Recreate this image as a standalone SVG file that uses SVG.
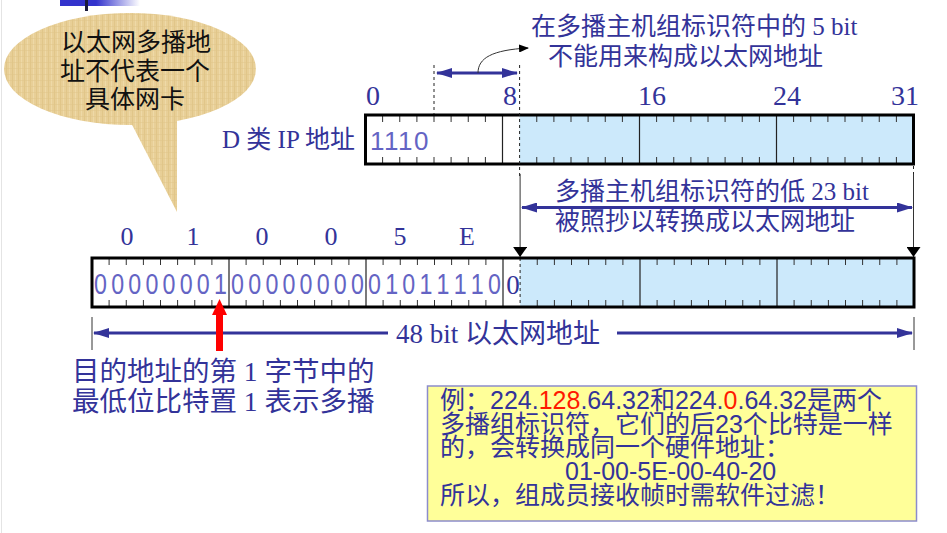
<svg xmlns="http://www.w3.org/2000/svg" width="947" height="533" viewBox="0 0 947 533">
<style>
.lbl{font-family:"Liberation Serif","Noto Sans CJK SC",serif;fill:#333399;font-size:25px}
.big{font-size:27.5px}
.mid{font-size:27px}
.num{font-family:"Liberation Serif",serif;fill:#333399;font-size:28px;text-anchor:middle}
.hex{font-family:"Liberation Serif",serif;fill:#333399;font-size:26px;text-anchor:middle}
.bits{font-family:"Liberation Sans",sans-serif;fill:#6464c4;font-size:29px;text-anchor:middle}
.bub{font-family:"Noto Sans CJK SC",sans-serif;fill:#111;font-size:25px;text-anchor:middle}
.ex{font-family:"Liberation Sans","Noto Sans CJK SC",sans-serif;fill:#333399;font-size:25px}
.red{fill:#ff1a00}
.frame{fill:none;stroke:#000;stroke-width:3}
.byte{stroke:#222;stroke-width:1.2}
.tick{stroke:#333;stroke-width:1;fill:none}
.dash{stroke:#222;stroke-width:1;stroke-dasharray:3 3}
.blue{stroke:#333399;stroke-width:3;fill:none}
.thin{stroke:#333;stroke-width:1;fill:none}
</style>
<defs>
<linearGradient id="barGrad" x1="0" y1="0" x2="1" y2="0">
<stop offset="0" stop-color="#3333cc"/>
<stop offset="0.45" stop-color="#3333cc"/>
<stop offset="1" stop-color="#ffffff"/>
</linearGradient>
<pattern id="parch" width="6" height="6" patternUnits="userSpaceOnUse">
<rect width="6" height="6" fill="#e8cf97"/>
<rect x="0" width="1" height="6" fill="#dfc283" opacity="0.7"/>
<rect x="3" width="1" height="6" fill="#f0dcab" opacity="0.8"/>
<rect y="2" width="6" height="1" fill="#e0c689" opacity="0.5"/>
</pattern>
<marker id="bArrow" viewBox="0 0 16 10" refX="15" refY="5" markerWidth="16" markerHeight="10" markerUnits="userSpaceOnUse" orient="auto-start-reverse">
<path d="M0,0 L16,5 L0,10 z" fill="#333399"/>
</marker>
<marker id="kArrow" viewBox="0 0 10 14" refX="10" refY="7" markerWidth="10" markerHeight="14" markerUnits="userSpaceOnUse" orient="auto">
<path d="M0,0 L10,7 L0,14 z" fill="#000"/>
</marker>
<marker id="kSmall" viewBox="0 0 10 8" refX="9" refY="4" markerWidth="10" markerHeight="8" markerUnits="userSpaceOnUse" orient="auto">
<path d="M0,0 L10,4 L0,8 z" fill="#000"/>
</marker>
</defs>

<rect width="947" height="533" fill="#ffffff"/>
<line x1="1.5" y1="0" x2="1.5" y2="533" stroke="#e4e4e4" stroke-width="1"/>
<rect x="60" y="0" width="80" height="6" fill="url(#barGrad)"/>
<rect x="85" y="0" width="3" height="11" fill="#1a1a3a"/>

<g id="bubble">
<path d="M127,115 L177,212 L177,118 Z" fill="url(#parch)"/>
<ellipse cx="130" cy="69" rx="126" ry="56" fill="url(#parch)"/>
<text class="bub" x="136" y="51">以太网多播地</text>
<text class="bub" x="135" y="80">址不代表一个</text>
<text class="bub" x="135" y="108">具体网卡</text>
</g>

<g id="ip-address">
<text class="lbl" x="222" y="148">D 类 IP 地址</text>
<text class="num" x="373" y="105">0</text>
<text class="num" x="510" y="105">8</text>
<text class="num" x="652" y="105">16</text>
<text class="num" x="787" y="105">24</text>
<text class="num" x="905" y="105">31</text>
<rect x="519.6" y="115" width="394" height="49" fill="#cce9fb"/>
<path class="tick" d="M382.6 116v6m0 35v6M399.75 116v6m0 35v6M416.9 116v6m0 35v6M434 116v6m0 35v6M451.1 116v6m0 35v6M468.25 116v6m0 35v6M485.4 116v6m0 35v6M536.75 116v6m0 35v6M553.9 116v6m0 35v6M571 116v6m0 35v6M588.1 116v6m0 35v6M605.25 116v6m0 35v6M622.4 116v6m0 35v6M656.6 116v6m0 35v6M673.75 116v6m0 35v6M690.9 116v6m0 35v6M708 116v6m0 35v6M725.1 116v6m0 35v6M742.25 116v6m0 35v6M759.4 116v6m0 35v6M793.6 116v6m0 35v6M810.75 116v6m0 35v6M827.9 116v6m0 35v6M845 116v6m0 35v6M862.1 116v6m0 35v6M879.25 116v6m0 35v6M896.4 116v6m0 35v6"/>
<path class="byte" d="M502.5 115V164M639.5 115V164M776.5 115V164"/>
<rect class="frame" x="365.5" y="115" width="548" height="49"/>
<text x="370" y="150" font-family="Liberation Sans, sans-serif" font-size="26" fill="#6464c4" letter-spacing="1.5">1110</text>
</g>

<g id="mac-address">
<text class="hex" x="127" y="245">0</text>
<text class="hex" x="193" y="245">1</text>
<text class="hex" x="262" y="245">0</text>
<text class="hex" x="331" y="245">0</text>
<text class="hex" x="400" y="245">5</text>
<text class="hex" x="467" y="245">E</text>
<rect x="520.1" y="258" width="393.9" height="49" fill="#cce9fb"/>
<path class="tick" d="M109.1 259v6m0 35v6M126.25 259v6m0 35v6M143.4 259v6m0 35v6M160.5 259v6m0 35v6M177.6 259v6m0 35v6M194.75 259v6m0 35v6M211.9 259v6m0 35v6M246.1 259v6m0 35v6M263.25 259v6m0 35v6M280.4 259v6m0 35v6M297.5 259v6m0 35v6M314.6 259v6m0 35v6M331.75 259v6m0 35v6M348.9 259v6m0 35v6M383.1 259v6m0 35v6M400.25 259v6m0 35v6M417.4 259v6m0 35v6M434.5 259v6m0 35v6M451.6 259v6m0 35v6M468.75 259v6m0 35v6M485.9 259v6m0 35v6M537.25 259v6m0 35v6M554.4 259v6m0 35v6M571.5 259v6m0 35v6M588.6 259v6m0 35v6M605.75 259v6m0 35v6M622.9 259v6m0 35v6M657.1 259v6m0 35v6M674.25 259v6m0 35v6M691.4 259v6m0 35v6M708.5 259v6m0 35v6M725.6 259v6m0 35v6M742.75 259v6m0 35v6M759.9 259v6m0 35v6M794.1 259v6m0 35v6M811.25 259v6m0 35v6M828.4 259v6m0 35v6M845.5 259v6m0 35v6M862.6 259v6m0 35v6M879.75 259v6m0 35v6M896.9 259v6m0 35v6"/>
<path class="byte" d="M229 258V307M366 258V307M503 258V307M640 258V307M777 258V307"/>
<line class="dash" x1="520.1" y1="258" x2="520.1" y2="307"/>
<rect class="frame" x="92" y="258" width="822" height="49"/>
<text class="bits" transform="scale(0.8 1)" y="294" x="125.7 147.1 168.5 189.9 211.3 232.7 254.1 275.5 296.9 318.4 339.8 361.2 382.6 404.0 425.4 446.8 468.2 489.6 511.0 532.4 553.8 575.2 596.6 618.0">000000010000000001011110</text>
<text x="513" y="294" font-family="Liberation Serif, serif" font-size="27" fill="#333399" text-anchor="middle">0</text>
</g>

<g id="note-5bit">
<text class="lbl" x="531" y="35">在多播主机组标识符中的 5 bit</text>
<text class="lbl" x="548" y="65">不能用来构成以太网地址</text>
</g>

<g id="note-23bit">
<text class="lbl" x="555" y="200">多播主机组标识符的低 23 bit</text>
<text class="lbl" x="555" y="230">被照抄以转换成以太网地址</text>
</g>

<g id="note-48bit">
<text class="lbl mid" x="396" y="343">48 bit 以太网地址</text>
</g>

<g id="note-multicast-bit">
<text class="lbl big" x="72" y="381">目的地址的第 1 字节中的</text>
<text class="lbl big" x="72" y="411">最低位比特置 1 表示多播</text>
</g>

<g id="example">
<rect x="427.5" y="386" width="489" height="135" fill="#ffff99" stroke="#8c8ccc" stroke-width="1.5"/>
<text class="ex" x="440" y="409">例：224.<tspan class="red">128</tspan>.64.32和224.<tspan class="red">0</tspan>.64.32是两个</text>
<text class="ex" x="440" y="432.5">多播组标识符，它们的后23个比特是一样</text>
<text class="ex" x="440" y="456">的，会转换成同一个硬件地址：</text>
<text class="ex" x="565" y="480">01-00-5E-00-40-20</text>
<text class="ex" x="440" y="503.5">所以，组成员接收帧时需软件过滤！</text>
</g>

<g id="connectors">
<line class="dash" x1="434" y1="65" x2="434" y2="114"/>
<line class="dash" x1="519.6" y1="65" x2="519.6" y2="176"/>
<line class="blue" x1="437" y1="73" x2="517" y2="73" marker-start="url(#bArrow)" marker-end="url(#bArrow)"/>
<path class="thin" d="M478,73 C478,58 492,50 528,48" marker-end="url(#kSmall)"/>
<line class="dash" x1="913.5" y1="166" x2="913.5" y2="176"/>
<line class="thin" x1="520.1" y1="174" x2="520.1" y2="257" marker-end="url(#kArrow)"/>
<line class="thin" x1="913.5" y1="174" x2="913.5" y2="257" marker-end="url(#kArrow)"/>
<line class="blue" x1="522" y1="207.5" x2="912" y2="207.5" marker-start="url(#bArrow)" marker-end="url(#bArrow)"/>
<line class="thin" x1="92" y1="317" x2="92" y2="350"/>
<line class="thin" x1="914" y1="317" x2="914" y2="350"/>
<line class="blue" x1="94" y1="333" x2="388" y2="333" marker-start="url(#bArrow)"/>
<line class="blue" x1="617" y1="333" x2="912" y2="333" marker-end="url(#bArrow)"/>
<rect x="216" y="313" width="7" height="38" fill="#ff0000"/>
<polygon points="212,315 227,315 219.5,299" fill="#ff0000"/>
</g>
</svg>
